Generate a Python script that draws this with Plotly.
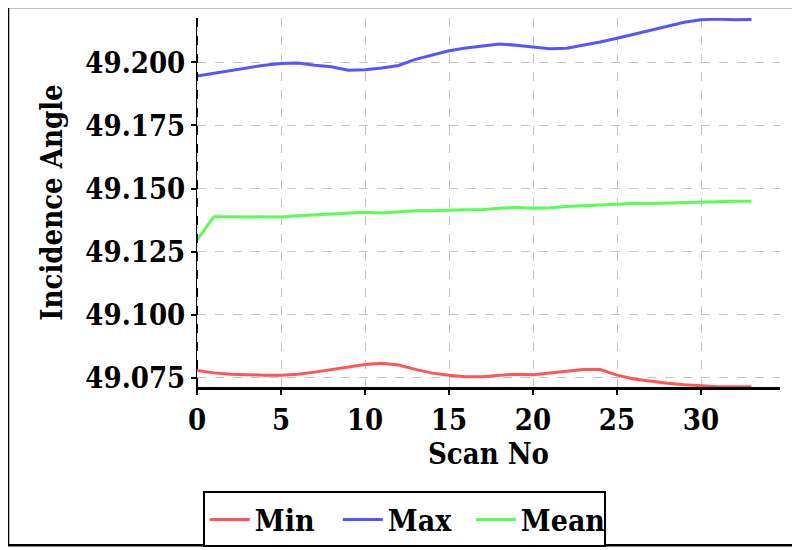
import plotly.graph_objects as go

scan_no = list(range(34))

inc_min = [49.0778, 49.0769, 49.0764, 49.0761, 49.0760, 49.0760, 49.0764, 49.0772, 49.0782, 49.0793,
           49.0802, 49.0807, 49.0800, 49.0783, 49.0768, 49.0760, 49.0754, 49.0754, 49.0758, 49.0764,
           49.0762, 49.0769, 49.0776, 49.0782, 49.0782, 49.0760, 49.0745, 49.0736, 49.0728, 49.0722,
           49.0717, 49.0714, 49.0714, 49.0714]

inc_max = [49.1946, 49.1957, 49.1969, 49.1980, 49.1989, 49.1996, 49.1998, 49.1989, 49.1983, 49.1969,
           49.1971, 49.1978, 49.1988, 49.2012, 49.2030, 49.2046, 49.2057, 49.2064, 49.2073, 49.2068,
           49.2060, 49.2054, 49.2056, 49.2068, 49.2081, 49.2096, 49.2111, 49.2127, 49.2144, 49.2159,
           49.2169, 49.2172, 49.2169, 49.2170]

inc_mean = [49.1296, 49.1388, 49.1388, 49.1387, 49.1386, 49.1387, 49.1392, 49.1395, 49.1398, 49.1402,
            49.1406, 49.1403, 49.1408, 49.1412, 49.1412, 49.1415, 49.1416, 49.1417, 49.1422, 49.1426,
            49.1422, 49.1424, 49.1429, 49.1433, 49.1435, 49.1438, 49.1442, 49.1441, 49.1442, 49.1443,
            49.1446, 49.1447, 49.1449, 49.1449]

FONT = "DejaVu Serif Condensed, DejaVu Serif"

fig = go.Figure()
fig.add_trace(go.Scatter(x=scan_no, y=inc_min, mode="lines", name="Min",
                         line=dict(color="rgb(255,85,85)", width=3)))
fig.add_trace(go.Scatter(x=scan_no, y=inc_max, mode="lines", name="Max",
                         line=dict(color="rgb(85,85,255)", width=3)))
fig.add_trace(go.Scatter(x=scan_no, y=inc_mean, mode="lines", name="Mean",
                         line=dict(color="rgb(85,255,85)", width=3)))

# the page sits 8px in from the window edge, margins are set with that in mind
fig.update_layout(
    width=792, height=550,
    margin=dict(l=189, r=20, t=10, b=169),
    paper_bgcolor="white", plot_bgcolor="white",
    font=dict(family=FONT, color="black", weight="bold"),
    legend=dict(orientation="h", x=0.01, y=-0.283, xanchor="left", yanchor="top",
                bordercolor="black", borderwidth=2, entrywidth=78, itemwidth=40,
                font=dict(family=FONT, size=30, weight="bold")),
    shapes=[
        dict(type="rect", xref="paper", yref="paper",
             x0=-0.3242, x1=1.024, y0=-0.4286, y1=1.0296,
             line=dict(color="black", width=2.5), layer="below"),
        dict(type="line", xref="x", yref="paper", x0=0, x1=0, y0=0, y1=1,
             line=dict(color="black", width=2, dash="dash")),
    ],
)

fig.update_xaxes(
    range=[0, 34.7], dtick=5, tick0=0, automargin=False,
    showgrid=True, gridcolor="#c4c4c4", griddash="dash", gridwidth=1,
    showline=True, linecolor="black", linewidth=2.5,
    ticks="outside", ticklen=5, tickwidth=2, tickcolor="black",
    zeroline=False,
    tickfont=dict(family=FONT, size=29, weight="bold"),
    title=dict(text="Scan No", font=dict(family=FONT, size=29, weight="bold"), standoff=8),
)
fig.update_yaxes(
    range=[49.0713, 49.2176], dtick=0.025, tick0=49.075, tickformat=".3f", automargin=False,
    showgrid=True, gridcolor="#c4c4c4", griddash="dash", gridwidth=1,
    showline=True, linecolor="black", linewidth=1,
    ticks="outside", ticklen=5, tickwidth=2, tickcolor="black",
    zeroline=False,
    tickfont=dict(family=FONT, size=29, weight="bold"),
    title=dict(text="Incidence Angle", font=dict(family=FONT, size=29, weight="bold"), standoff=14),
)

fig.write_html("out.html")
